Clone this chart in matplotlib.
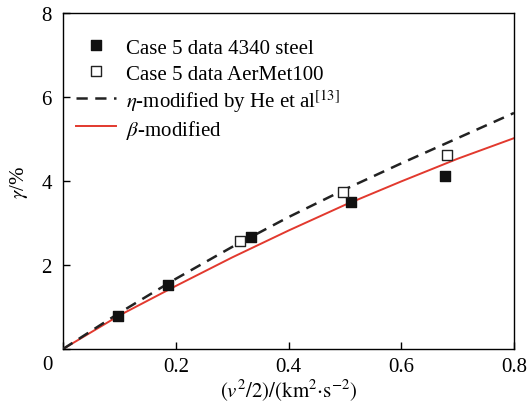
import matplotlib
matplotlib.use("Agg")
import matplotlib.pyplot as plt

plt.rcParams['font.family'] = ['Liberation Serif', 'DejaVu Serif']
plt.rcParams['mathtext.fontset'] = 'stix'

# Experimental points
steel_x = [0.098, 0.187, 0.333, 0.511, 0.678]
steel_y = [0.78, 1.53, 2.67, 3.51, 4.11]
aermet_x = [0.314, 0.496, 0.681]
aermet_y = [2.56, 3.75, 4.63]

# Model curves
curve_x = [0.0, 0.1, 0.2, 0.3, 0.4, 0.5, 0.6, 0.7, 0.8]
eta_y = [0.0, 0.86, 1.67, 2.43, 3.14, 3.80, 4.42, 5.02, 5.62]
beta_y = [0.0, 0.80, 1.50, 2.18, 2.82, 3.43, 3.99, 4.53, 5.02]

fig = plt.figure(figsize=(5.29, 4.06), dpi=100)
ax = fig.add_axes([63/529, 56/406, 451/529, 336/406])

ax.plot(curve_x, eta_y, color='#222222', lw=1.8, ls=(0, (4.5, 3)),
        label=r'$\eta$-modified by He et al$^{[13]}$', zorder=3)
ax.plot(curve_x, beta_y, color='#e2392e', lw=1.4, label=r'$\beta$-modified', zorder=2)
ax.scatter(steel_x, steel_y, marker='s', s=55, facecolor='#111111',
           edgecolor='#111111', label='Case 5 data 4340 steel', zorder=4)
ax.scatter(aermet_x, aermet_y, marker='s', s=50, facecolor='white',
           edgecolor='#222222', linewidths=1.0, label='Case 5 data AerMet100', zorder=4)

ax.set_xlim(0, 0.8)
ax.set_ylim(0, 8)
ax.set_xticks([0, 0.2, 0.4, 0.6, 0.8])
ax.set_xticklabels(['', '0.2', '0.4', '0.6', '0.8'])
ax.set_yticks([0, 2, 4, 6, 8])
ax.set_yticklabels(['', '2', '4', '6', '8'])
ax.tick_params(direction='in', length=5, width=1, labelsize=15)
ax.tick_params(axis='x', pad=6)
ax.tick_params(axis='y', pad=8)
ax.text(-0.027, -0.36, '0', fontsize=15, ha='center', va='center')
for s in ax.spines.values():
    s.set_linewidth(1.0)

ax.set_xlabel(r'$(v^2/2)/(\mathrm{km^2{\cdot}s^{-2}})$', fontsize=15, labelpad=0)
ax.set_ylabel(r'$\gamma$/%', fontsize=15, labelpad=8)

h, l = ax.get_legend_handles_labels()
order = [2, 3, 0, 1]
ax.legend([h[i] for i in order], [l[i] for i in order], loc='upper left',
          frameon=False, fontsize=15, handlelength=1.93, handletextpad=0.5,
          handleheight=1.3, labelspacing=0.13, borderaxespad=0.2,
          bbox_to_anchor=(0.0, 0.972))

fig.savefig('out.png', dpi=100)
